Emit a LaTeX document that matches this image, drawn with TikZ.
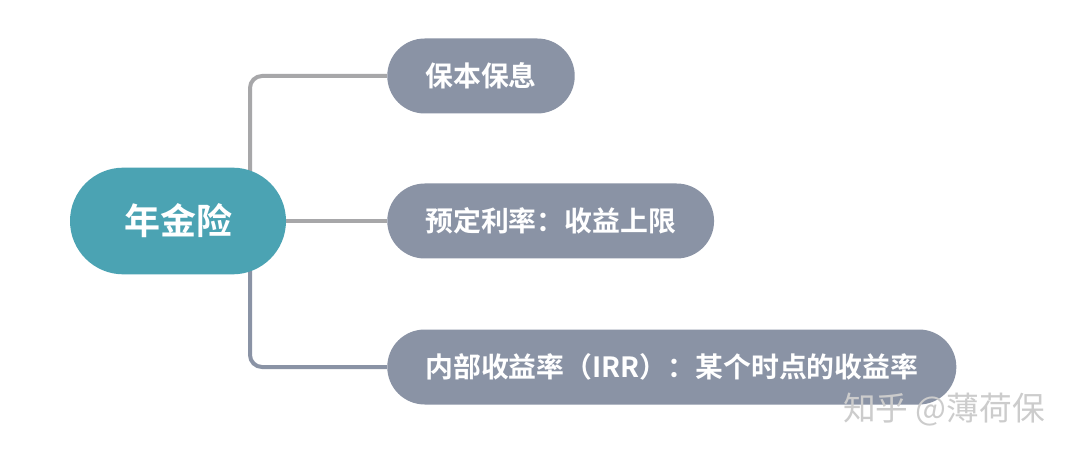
\documentclass[tikz,border=0pt]{standalone}
\usepackage{fontspec}
\setmainfont{Noto Sans CJK SC}[BoldFont={Noto Sans CJK SC Bold}]
\newfontfamily\cjk{Noto Sans CJK SC}
\definecolor{rootc}{HTML}{4BA3B3}
\definecolor{leafc}{HTML}{8A93A5}
\definecolor{linetop}{HTML}{A7A7A9}
\definecolor{linebot}{HTML}{8A93A5}
\begin{document}
\begin{tikzpicture}[x=0.75pt,y=-0.75pt,
  rootbox/.style={fill=rootc,text=white,font=\bfseries\fontsize{27}{30}\selectfont,
    minimum width=162pt,minimum height=80pt,rounded corners=40pt,inner sep=0pt},
  leafbox/.style={fill=leafc,text=white,font=\bfseries\fontsize{20.9}{24}\selectfont,
    minimum height=56.25pt,rounded corners=28.1pt,inner xsep=28.5pt,inner ysep=0pt,anchor=west},
  conn/.style={line width=3pt,rounded corners=9pt}]
\fill[white] (0,0) rectangle (1072,456);
\useasboundingbox (0,0) rectangle (1072,456);
\coordinate (j) at (250,221);
\coordinate (p1) at (387,76);
\coordinate (p2) at (387,221);
\coordinate (p3) at (387,367);
\draw[conn,linetop] (j) |- (p1);
\draw[conn,linebot] (j) |- (p3);
\draw[conn,linetop] (j) -- (p2);
\node[rootbox] (root) at (178,221) {年金险};
\node[leafbox] (n1) at (p1) {保本保息};
\node[leafbox] (n2) at (p2) {预定利率：收益上限};
\node[leafbox] (n3) at (p3) {内部收益率（IRR）：某个时点的收益率};
\node[anchor=west,text=gray!40,font=\cjk\fontsize{24.5}{26}\selectfont,inner sep=0pt] (wm) at (843,410) {知乎 @薄荷保};
\end{tikzpicture}
\end{document}
